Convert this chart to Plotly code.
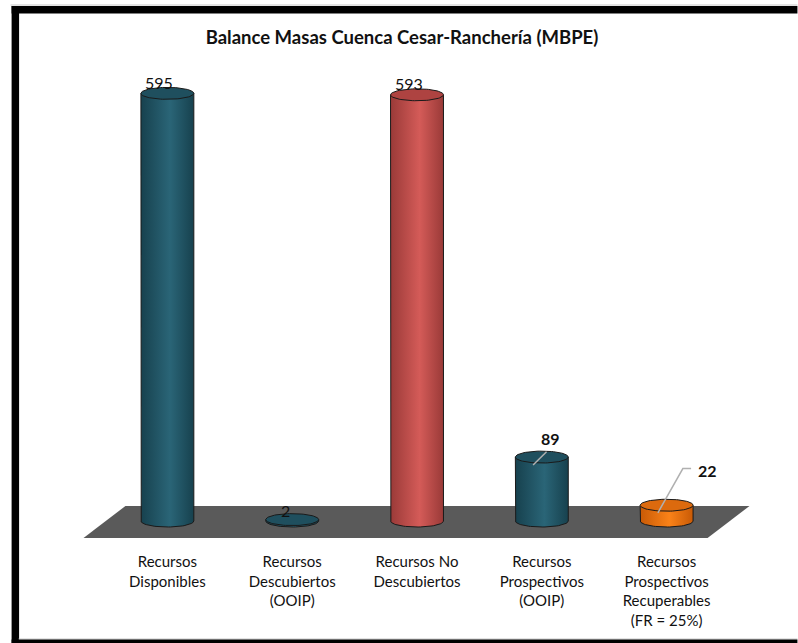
import numpy as np
import plotly.graph_objects as go

# ---- data ----
categories = ["Recursos<br>Disponibles",
              "Recursos<br>Descubiertos<br>(OOIP)",
              "Recursos No<br>Descubiertos",
              "Recursos<br>Prospectivos<br>(OOIP)",
              "Recursos<br>Prospectivos<br>Recuperables<br>(FR = 25%)"]
values = [595, 2, 593, 89, 22]
label_text = ["595", "2", "593", "89", "22"]
title_text = "Balance Masas Cuenca Cesar-Ranchería (MBPE)"

# ---- styles ----
body_edge = ["#17414e", "#17414e", "#9a3a38", "#17414e", "#c85a06"]
body_mid = ["#2a6577", "#2a6577", "#d45b58", "#2a6577", "#fa8218"]
top_col = ["#1f4f5e", "#1f4f5e", "#ae4341", "#1f4f5e", "#dc6a0e"]
FONT = "Lato"

W, H = 798, 643
L, T = 79.5, 61
PW, PH = 675, 477
x_rng = [-0.7, 4.7]
y_rng = [-23.6, 640]

half_w = 0.212      # cylinder half width (category units)
half_h = 8.3        # ellipse half height (value units)

fig = go.Figure()

th = np.linspace(0, 2 * np.pi, 80)
th_low = np.linspace(np.pi, 2 * np.pi, 40)
for i, v in enumerate(values):
    # body: sides + front arc of base ellipse
    bx = [i - half_w, i - half_w] + list(i + half_w * np.cos(th_low)) + [i + half_w, i + half_w]
    by = [v, 0] + list(0 + half_h * np.sin(th_low)) + [0, v]
    fig.add_trace(go.Scatter(
        x=bx, y=by, mode="lines", fill="toself",
        fillgradient=dict(type="horizontal",
                          colorscale=[[0, body_edge[i]], [0.55, body_mid[i]], [1, body_edge[i]]]),
        line=dict(color="#1a1a1a", width=1), hoverinfo="skip", showlegend=False))
    # top ellipse
    fig.add_trace(go.Scatter(
        x=i + half_w * np.cos(th), y=v + half_h * np.sin(th), mode="lines",
        fill="toself", fillcolor=top_col[i],
        line=dict(color="#1a1a1a", width=1), hoverinfo="skip", showlegend=False))

# ---- value labels ----
lab_dx = [-0.065, -0.05, -0.068, 0.066, 0.33]
lab_dy = [15.5, 12.5, 16, 26.5, 49]
lab_bold = [False, False, False, True, True]
for i, v in enumerate(values):
    t = label_text[i]
    fig.add_annotation(x=i + lab_dx[i], y=v + lab_dy[i], text=f"<b>{t}</b>" if lab_bold[i] else t,
                       showarrow=False, font=dict(family=FONT, size=16, color="#111111"),
                       xanchor="center", yanchor="middle")

# leader lines
fig.add_shape(type="line", xref="x", yref="y",
              x0=3 + 0.038, y0=values[3] + 7.4, x1=3 - 0.07, y1=values[3] - 11,
              line=dict(color="#b0b0b0", width=1.5))
fig.add_shape(type="path", xref="x", yref="y",
              path=f"M {4 + 0.196} {values[4] + 51} L {4 + 0.13} {values[4] + 51} L {4 - 0.07} {values[4] - 10.5}",
              line=dict(color="#b0b0b0", width=1.5))

# floor (perspective plane)
def px2x(p):
    return x_rng[0] + (p - L) / PW * (x_rng[1] - x_rng[0])

def py2y(p):
    return y_rng[1] - (p - T) / PH * (y_rng[1] - y_rng[0])

fx = [px2x(83), px2x(125), px2x(750), px2x(708)]
fy = [py2y(538), py2y(506), py2y(506), py2y(538)]
fig.add_shape(type="path", xref="x", yref="y", layer="below",
              path=f"M {fx[0]} {fy[0]} L {fx[1]} {fy[1]} L {fx[2]} {fy[2]} L {fx[3]} {fy[3]} Z",
              fillcolor="#5a5a5a", line=dict(width=0))

# frame (paper coords from pixels)
def ppx(p):
    return (p - L) / PW

def ppy(p):
    return 1 - (p - T) / PH

frame = [
    (10, 4.5, 798, 5.5, "#c8c8c8"),
    (11, 6, 798, 13.5, "#000000"),
    (11, 6, 18.5, 643, "#000000"),
    (18, 638.5, 798, 639.5, "#c8c8c8"),
    (11, 639.5, 798, 643, "#000000"),
]
for x0, y0, x1, y1, c in frame:
    fig.add_shape(type="rect", xref="paper", yref="paper",
                  x0=ppx(x0), x1=ppx(x1), y0=ppy(y1), y1=ppy(y0),
                  fillcolor=c, line=dict(width=0), layer="above")

fig.update_layout(
    width=W, height=H,
    margin=dict(l=L, r=W - L - PW, t=T, b=H - T - PH),
    paper_bgcolor="white", plot_bgcolor="white",
    title=dict(text=f"<b>{title_text}</b>", x=402 / W, xref="container", xanchor="center",
               y=1 - 38 / H, yref="container", yanchor="middle",
               font=dict(family=FONT, size=18.5, color="#111111")),
    xaxis=dict(range=x_rng, tickmode="array", tickvals=list(range(len(categories))),
               ticktext=categories, showgrid=False, zeroline=False, showline=False,
               ticks="", ticklabelstandoff=13,
               tickfont=dict(family=FONT, size=15, color="#111111"), fixedrange=True),
    yaxis=dict(range=y_rng, visible=False, showgrid=False, zeroline=False, fixedrange=True),
    showlegend=False,
)

fig.write_html("out.html")
